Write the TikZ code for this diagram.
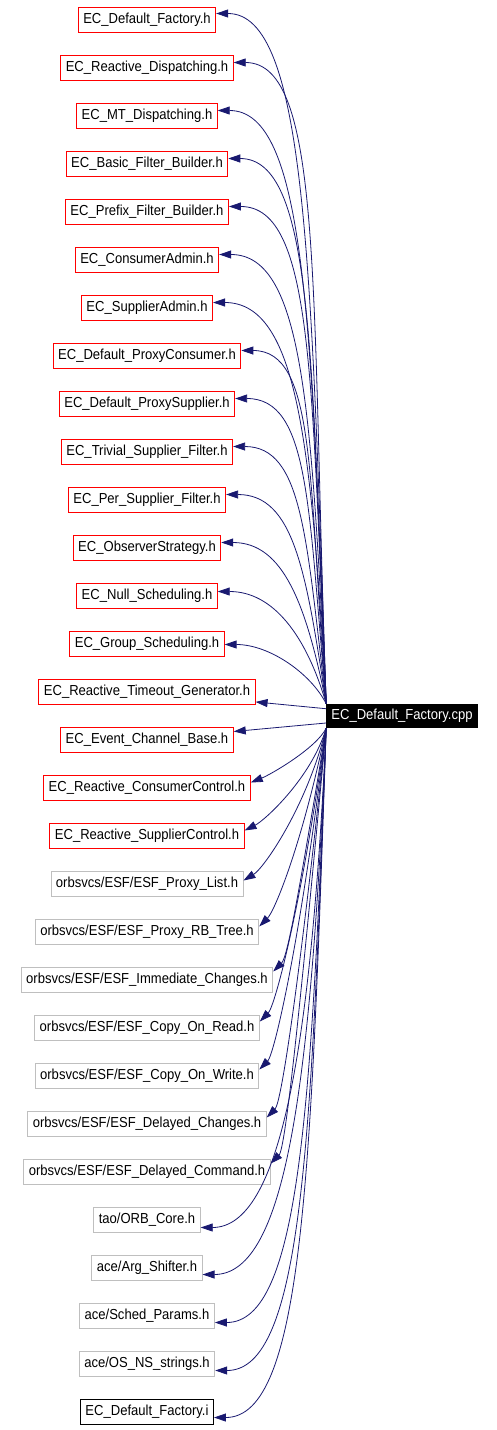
\documentclass[tikz,border=0pt]{standalone}
\usepackage{fontspec}
\setmainfont{Liberation Sans}[FakeStretch=0.9]
\usetikzlibrary{arrows.meta, positioning}
\definecolor{edgeblue}{HTML}{191970}
\definecolor{sysgray}{HTML}{BFBFBF}
\tikzstyle{hfile}   = [rectangle, draw=red, line width=0.9pt, minimum height=25pt, inner xsep=5pt,
                       text height=10pt, text depth=3pt, font=\fontsize{14.5}{16}\selectfont]
\tikzstyle{sysfile} = [hfile, draw=sysgray]
\tikzstyle{inlfile} = [hfile, draw=black]
\tikzstyle{srcfile} = [rectangle, fill=black, text=white, minimum height=24pt, inner xsep=5pt,
                       text height=10pt, text depth=3pt, font=\fontsize{14.5}{16}\selectfont]
\tikzstyle{deparrow} = [-{Triangle[length=12pt, width=8pt]}, draw=edgeblue, line width=0.8pt]

\begin{document}
\begin{tikzpicture}[x=1pt, y=1pt, node distance=22.1pt]
    \useasboundingbox (0,0) rectangle (496,-1430);
    \node (fact) [hfile] at (147,-19.5) {EC\_Default\_Factory.h};
    \node (rdisp) [hfile, below=of fact] {EC\_Reactive\_Dispatching.h};
    \node (mtdisp) [hfile, below=of rdisp] {EC\_MT\_Dispatching.h};
    \node (bfilt) [hfile, below=of mtdisp] {EC\_Basic\_Filter\_Builder.h};
    \node (pfilt) [hfile, below=of bfilt] {EC\_Prefix\_Filter\_Builder.h};
    \node (cadmin) [hfile, below=of pfilt] {EC\_ConsumerAdmin.h};
    \node (sadmin) [hfile, below=of cadmin] {EC\_SupplierAdmin.h};
    \node (pcons) [hfile, below=of sadmin] {EC\_Default\_ProxyConsumer.h};
    \node (psupp) [hfile, below=of pcons] {EC\_Default\_ProxySupplier.h};
    \node (tfilt) [hfile, below=of psupp] {EC\_Trivial\_Supplier\_Filter.h};
    \node (psfilt) [hfile, below=of tfilt] {EC\_Per\_Supplier\_Filter.h};
    \node (observ) [hfile, below=of psfilt] {EC\_ObserverStrategy.h};
    \node (nullsch) [hfile, below=of observ] {EC\_Null\_Scheduling.h};
    \node (grpsch) [hfile, below=of nullsch] {EC\_Group\_Scheduling.h};
    \node (rtimeout) [hfile, below=of grpsch] {EC\_Reactive\_Timeout\_Generator.h};
    \node (ecbase) [hfile, below=of rtimeout] {EC\_Event\_Channel\_Base.h};
    \node (rcons) [hfile, below=of ecbase] {EC\_Reactive\_ConsumerControl.h};
    \node (rsupp) [hfile, below=of rcons] {EC\_Reactive\_SupplierControl.h};
    \node (plist) [sysfile, below=of rsupp] {orbsvcs/ESF/ESF\_Proxy\_List.h};
    \node (rbtree) [sysfile, below=of plist] {orbsvcs/ESF/ESF\_Proxy\_RB\_Tree.h};
    \node (immed) [sysfile, below=of rbtree] {orbsvcs/ESF/ESF\_Immediate\_Changes.h};
    \node (cread) [sysfile, below=of immed] {orbsvcs/ESF/ESF\_Copy\_On\_Read.h};
    \node (cwrite) [sysfile, below=of cread] {orbsvcs/ESF/ESF\_Copy\_On\_Write.h};
    \node (delchg) [sysfile, below=of cwrite] {orbsvcs/ESF/ESF\_Delayed\_Changes.h};
    \node (delcmd) [sysfile, below=of delchg] {orbsvcs/ESF/ESF\_Delayed\_Command.h};
    \node (orbcore) [sysfile, below=of delcmd] {tao/ORB\_Core.h};
    \node (argsh) [sysfile, below=of orbcore] {ace/Arg\_Shifter.h};
    \node (sched) [sysfile, below=of argsh] {ace/Sched\_Params.h};
    \node (osstr) [sysfile, below=of sched] {ace/OS\_NS\_strings.h};
    \node (facti) [inlfile, below=of osstr] {EC\_Default\_Factory.i};

    \node (cpp) [srcfile] at (402,-716) {EC\_Default\_Factory.cpp};

    % includes above the source file
    \draw[deparrow] (cpp.north west) .. controls +(-15,440) and +(90,0) .. ([yshift=6pt]fact.east);
    \draw[deparrow] (cpp.north west) .. controls +(-15,410) and +(90,0) .. ([yshift=5pt]rdisp.east);
    \draw[deparrow] (cpp.north west) .. controls +(-15,380) and +(88,0) .. ([yshift=5pt]mtdisp.east);
    \draw[deparrow] (cpp.north west) .. controls +(-15,350) and +(85,0) .. ([yshift=5pt]bfilt.east);
    \draw[deparrow] (cpp.north west) .. controls +(-15,320) and +(85,0) .. ([yshift=5pt]pfilt.east);
    \draw[deparrow] (cpp.north west) .. controls +(-15,290) and +(85,0) .. ([yshift=5pt]cadmin.east);
    \draw[deparrow] (cpp.north west) .. controls +(-15,258) and +(85,0) .. ([yshift=5pt]sadmin.east);
    \draw[deparrow] (cpp.north west) .. controls +(-18,225) and +(75,0) .. ([yshift=5pt]pcons.east);
    \draw[deparrow] (cpp.north west) .. controls +(-18,195) and +(75,0) .. ([yshift=5pt]psupp.east);
    \draw[deparrow] (cpp.north west) .. controls +(-20,165) and +(70,0) .. ([yshift=5pt]tfilt.east);
    \draw[deparrow] (cpp.north west) .. controls +(-20,132) and +(68,0) .. ([yshift=5pt]psfilt.east);
    \draw[deparrow] (cpp.north west) .. controls +(-20,100) and +(62,0) .. ([yshift=5pt]observ.east);
    \draw[deparrow] (cpp.north west) .. controls +(-20,69) and +(55,0) .. ([yshift=4pt]nullsch.east);
    \draw[deparrow] (cpp.north west) .. controls +(-15,30) and +(45,0) .. ([yshift=-1pt]grpsch.east);
    \draw[deparrow] (cpp) -- (rtimeout);
    \draw[deparrow] (cpp) -- (ecbase);

    % includes below the source file
    \draw[deparrow] (cpp.south west) .. controls +(-10,-20) and +(20,8) .. ([yshift=5pt]rcons.east);
    \draw[deparrow] (cpp.south west) .. controls +(-15,-50) and +(20,10) .. ([yshift=5pt]rsupp.east);
    \draw[deparrow] (cpp.south west) .. controls +(-20,-80) and +(20,12) .. ([yshift=3pt]plist.east);
    \draw[deparrow] (cpp.south west) .. controls +(-25,-120) and +(15,15) .. ([yshift=5pt]rbtree.east);
    \draw[deparrow] (cpp.south west) .. controls +(-25,-150) and +(15,15) .. ([yshift=8pt]immed.east);
    \draw[deparrow] (cpp.south west) .. controls +(-25,-180) and +(15,15) .. ([yshift=6pt]cread.east);
    \draw[deparrow] (cpp.south west) .. controls +(-25,-210) and +(15,15) .. ([yshift=6pt]cwrite.east);
    \draw[deparrow] (cpp.south west) .. controls +(-25,-240) and +(15,15) .. ([yshift=6pt]delchg.east);
    \draw[deparrow] (cpp.south west) .. controls +(-25,-270) and +(15,15) .. ([yshift=8pt]delcmd.east);
    \draw[deparrow] (cpp.south west) .. controls +(-15,-320) and +(80,0) .. ([yshift=-8pt]orbcore.east);
    \draw[deparrow] (cpp.south west) .. controls +(-15,-350) and +(85,0) .. ([yshift=-7pt]argsh.east);
    \draw[deparrow] (cpp.south west) .. controls +(-15,-380) and +(85,0) .. ([yshift=-7pt]sched.east);
    \draw[deparrow] (cpp.south west) .. controls +(-15,-410) and +(88,0) .. ([yshift=-7pt]osstr.east);
    \draw[deparrow] (cpp.south west) .. controls +(-15,-440) and +(90,0) .. ([yshift=-6pt]facti.east);
\end{tikzpicture}
\end{document}
